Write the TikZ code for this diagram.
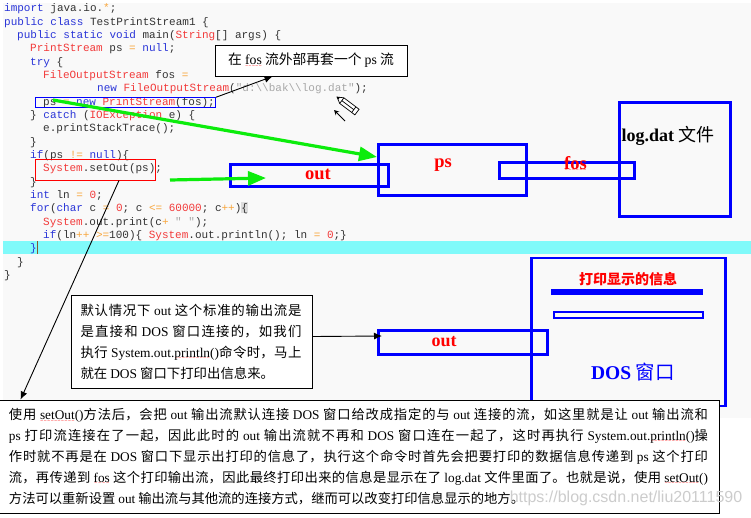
\documentclass[tikz,border=0pt]{standalone}
\usepackage{fontspec}
\usetikzlibrary{arrows.meta}
\setmainfont{Liberation Serif}
\newfontfamily\cjk{Noto Sans CJK SC}
\newfontfamily\codefont{Liberation Mono}
\newfontfamily\wavefont{DejaVu Sans}
\XeTeXlinebreaklocale "zh"
\XeTeXlinebreakskip=0pt plus 2pt minus .6pt
\definecolor{pagegray}{HTML}{F9F9F9}
\definecolor{bandcyan}{HTML}{80FAFA}
\definecolor{kwblue}{HTML}{2A35D8}
\definecolor{tyred}{HTML}{F23A3A}
\definecolor{oporange}{HTML}{F8A63C}
\definecolor{strgray}{HTML}{A8A8A8}
\definecolor{arrowgreen}{HTML}{0CEC0C}
\definecolor{markgray}{HTML}{C4C4C4}
\newcommand{\kw}[1]{\textcolor{kwblue}{#1}}
\newcommand{\ty}[1]{\textcolor{tyred}{#1}}
\newcommand{\op}[1]{\textcolor{oporange}{#1}}
\newcommand{\la}[1]{{\rmfamily #1}}
\newsavebox{\wvbox}
\newcommand{\wv}[1]{\leavevmode\sbox{\wvbox}{#1}\rlap{\lower2.4pt\hbox to\wd\wvbox{\color{red}\wavefont\mdseries\fontsize{4}{4}\selectfont\xleaders\hbox{\char"7E}\hfil}}\usebox{\wvbox}}
\begin{document}
\begin{tikzpicture}[x=1pt,y=-1pt,
    codeline/.style={anchor=west,inner sep=0pt,yshift=-1pt,text=black!80,font=\codefont\fontsize{11}{13}\selectfont},
    bluebox/.style={draw=blue,line width=3pt,inner sep=0pt},
    redtext/.style={text=red,inner sep=0pt,font=\bfseries\fontsize{18.5}{20}\selectfont},
    notebox/.style={draw=black,fill=white,line width=.9pt,inner sep=0pt,font=\cjk\fontsize{13.4}{20.8}\selectfont},
    blackarrow/.style={draw=black,line width=.9pt,-{Latex[length=8pt,width=7pt]}},
    greenarrow/.style={draw=arrowgreen,line width=3.2pt,-{Triangle[length=18pt,width=14pt]}}]
    \useasboundingbox (0,0) rectangle (751,517);
    \fill [pagegray] (3,3) rectangle (751,418);
    \fill [bandcyan] (3,241) rectangle (751,254);
    \fill [markgray!60] (241,202) rectangle (248,213);
    % code
    \node [codeline] (l1) at (4,8) {\kw{import} java.io.\op{*};};
    \node [codeline] (l2) at (4,21.4) {\kw{public} \kw{class} TestPrintStream1 \{};
    \node [codeline] (l3) at (17,34.7) {\kw{public} \kw{static} \kw{void} main(\ty{String}[] args) \{};
    \node [codeline] (l4) at (30,48) {\ty{PrintStream} ps \op{=} \kw{null};};
    \node [codeline] (l5) at (30,61.4) {\kw{try} \{};
    \node [codeline] (l6) at (43,74.7) {\ty{FileOutputStream} fos \op{=}};
    \node [codeline] (l7) at (97,88) {\kw{new} \ty{FileOutputStream}(\textcolor{strgray}{"d:\textbackslash\textbackslash bak\textbackslash\textbackslash log.dat"});};
    \node [codeline] (l8) at (43,101.4) {ps \op{=} \kw{new} \ty{PrintStream}(fos);};
    \node [codeline] (l9) at (30,114.7) {\} \kw{catch} (\ty{IOException} e) \{};
    \node [codeline] (l10) at (43,128) {e.printStackTrace();};
    \node [codeline] (l11) at (30,141.4) {\}};
    \node [codeline] (l12) at (30,154.7) {\kw{if}(ps \op{!=} \kw{null})\{};
    \node [codeline] (l13) at (43,168) {\ty{System}.setOut(ps);};
    \node [codeline] (l14) at (30,181.4) {\}};
    \node [codeline] (l15) at (30,194.7) {\kw{int} ln \op{=} \ty{0};};
    \node [codeline] (l16) at (30,208) {\kw{for}(\kw{char} c \op{=} \ty{0}; c \op{<=} \ty{60000}; c\op{++})\{};
    \node [codeline] (l17) at (43,221.4) {\ty{System}.out.print(c\op{+} \textcolor{strgray}{" "});};
    \node [codeline] (l18) at (43,234.7) {\kw{if}(ln\op{++} \op{>=}100)\{ \ty{System}.out.println(); ln \op{=} \ty{0};\}};
    \node [codeline] (l19) at (30,248) {\kw{\}}};
    \node [codeline] (l20) at (17,261.4) {\}};
    \node [codeline] (l21) at (4,274.7) {\}};
    \fill [brown!70!black] (36.5,241) rectangle (38,254);
    % marks on the code
    \node [draw=blue,line width=1pt,minimum width=180pt,minimum height=9.5pt,inner sep=0pt] (pscode) at (125.5,102.5) {};
    \node [draw=red,line width=.9pt,minimum width=120pt,minimum height=21pt,inner sep=0pt] (setout) at (95.5,169.5) {};
    % pencil
    \begin{scope}[shift={(337,97)},rotate=-37]
        \draw [line width=.7pt,fill=white] (0,0)--(6,-3.5)--(25,-3.5)--(25,3.5)--(6,3.5)--cycle;
        \draw [line width=.7pt] (6,-3.5)--(6,3.5) (21,-3.5)--(21,3.5) (6,0)--(21,0);
        \fill (0,0)--(2.5,-1.5)--(2.5,1.5)--cycle;
    \end{scope}
    \coordinate (cursortail) at (345,121);
    \coordinate (cursortip) at (334,110);
    \draw [line width=.8pt,-{Stealth[length=5pt,width=5pt]}] (cursortail) -- (cursortip);
    % streams at the top
    \node [bluebox,minimum width=157.5pt,minimum height=21.5pt] (outbox) at (309.25,175.25) {};
    \node [bluebox,minimum width=148pt,minimum height=51pt] (psbox) at (452.5,170) {};
    \node [bluebox,minimum width=135pt,minimum height=16pt] (fosbox) at (567,170.5) {};
    \node [bluebox,minimum width=111pt,minimum height=114pt] (logbox) at (675,159.5) {};
    \node [redtext] (outlabel) at (318,174) {out};
    \node [redtext] (pslabel) at (443,165) {ps};
    \node [redtext] (foslabel) at (575.5,164) {\wv{fos}};
    \node [inner sep=0pt,font=\bfseries\fontsize{18}{20}\selectfont] (loglabel) at (668,136) {log.dat {\cjk\mdseries 文件}};
    % green arrows
    \coordinate (greenstart) at (53,100);
    \draw [greenarrow] (greenstart) -- ([yshift=13pt]psbox.west);
    \coordinate (outstart) at (170,180);
    \coordinate (outtip) at (266,178);
    \draw [greenarrow] (outstart) -- (outtip);
    % remark on ps
    \node [draw=black,fill=white,line width=.9pt,minimum width=192pt,minimum height=31pt,inner sep=0pt,font=\cjk\fontsize{13.8}{16}\selectfont] (fosnote) at (311,60.5) {在 \la{\wv{fos}} 流外部再套一个 \la{ps} 流};
    \draw [blackarrow] (pscode.north east) -- ([xshift=58pt]fosnote.south west);
    % DOS window
    \node [draw=blue,line width=2.6pt,minimum width=194pt,minimum height=148pt,inner sep=0pt] (doswin) at (628.5,332) {};
    \node [text=red,inner sep=0pt,font=\cjk\bfseries\fontsize{14}{16}\selectfont] (doshead) at (628,279) {打印显示的信息};
    \fill [blue] (551,289) coordinate (barone) rectangle (703,295);
    \node [draw=blue,line width=2.4pt,minimum width=149pt,minimum height=6pt,inner sep=0pt] (bartwo) at (628.5,315) {};
    \node [bluebox,minimum width=169pt,minimum height=24pt] (outtwo) at (463,342.5) {};
    \node [redtext,font=\bfseries\fontsize{18}{20}\selectfont] (outtwolabel) at (444,341.5) {out};
    \node [text=blue,inner sep=0pt,font=\bfseries\fontsize{19.5}{22}\selectfont] (doslabel) at (633,372) {DOS {\cjk\mdseries 窗口}};
    % notes at the bottom
    \node [notebox,minimum width=241pt,minimum height=93pt] (outnote) at (191.5,341.5) {};
    \node [inner sep=0pt,text width=221pt,align=justify,font=\cjk\fontsize{13.4}{21}\selectfont] (outtext) at (191,341.5) {默认情况下 \la{out} 这个标准的输出流是\linebreak 是直接和 \la{DOS} 窗口连接的，如我们\linebreak 执行 \la{System.out.\wv{println}()}命令时，马上\linebreak 就在 \la{DOS} 窗口下打印出信息来。};
    \draw [blackarrow] ([yshift=5pt]outnote.east) -- ([xshift=5pt,yshift=6.5pt]outtwo.west);
    \node [notebox,minimum width=721pt,minimum height=113pt] (setoutnote) at (358.5,456.5) {};
    \node [inner sep=0pt,text width=699pt,align=justify,font=\cjk\fontsize{13.3}{20.9}\selectfont] (setouttext) at (358.5,456.5) {使用 \la{\wv{setOut}()}方法后，会把 \la{out} 输出流默认连接 \la{DOS} 窗口给改成指定的与 \la{out} 连接的流，如这里就是让 \la{out} 输出流和\linebreak \la{ps} 打印流连接在了一起，因此此时的 \la{out} 输出流就不再和 \la{DOS} 窗口连在一起了，这时再执行 \la{System.out.\wv{println}()}操\linebreak 作时就不再是在 \la{DOS} 窗口下显示出打印的信息了，执行这个命令时首先会把要打印的数据信息传递到 \la{ps} 这个打印\linebreak 流，再传递到 \la{\wv{fos}} 这个打印输出流，因此最终打印出来的信息是显示在了 \la{log.dat} 文件里面了。也就是说，使用 \la{\wv{setOut}()}\linebreak 方法可以重新设置 \la{out} 输出流与其他流的连接方式，继而可以改变打印信息显示的地方。};
    \draw [blackarrow] ([xshift=23.5pt]setout.south) -- ([xshift=23pt]setoutnote.north west);
    \node [inner sep=0pt,text=gray!40,font=\fontsize{16}{18}\selectfont] (watermark) at (626,498) {\fontspec{Liberation Sans}https://blog.csdn.net/liu20111590};
\end{tikzpicture}
\end{document}
